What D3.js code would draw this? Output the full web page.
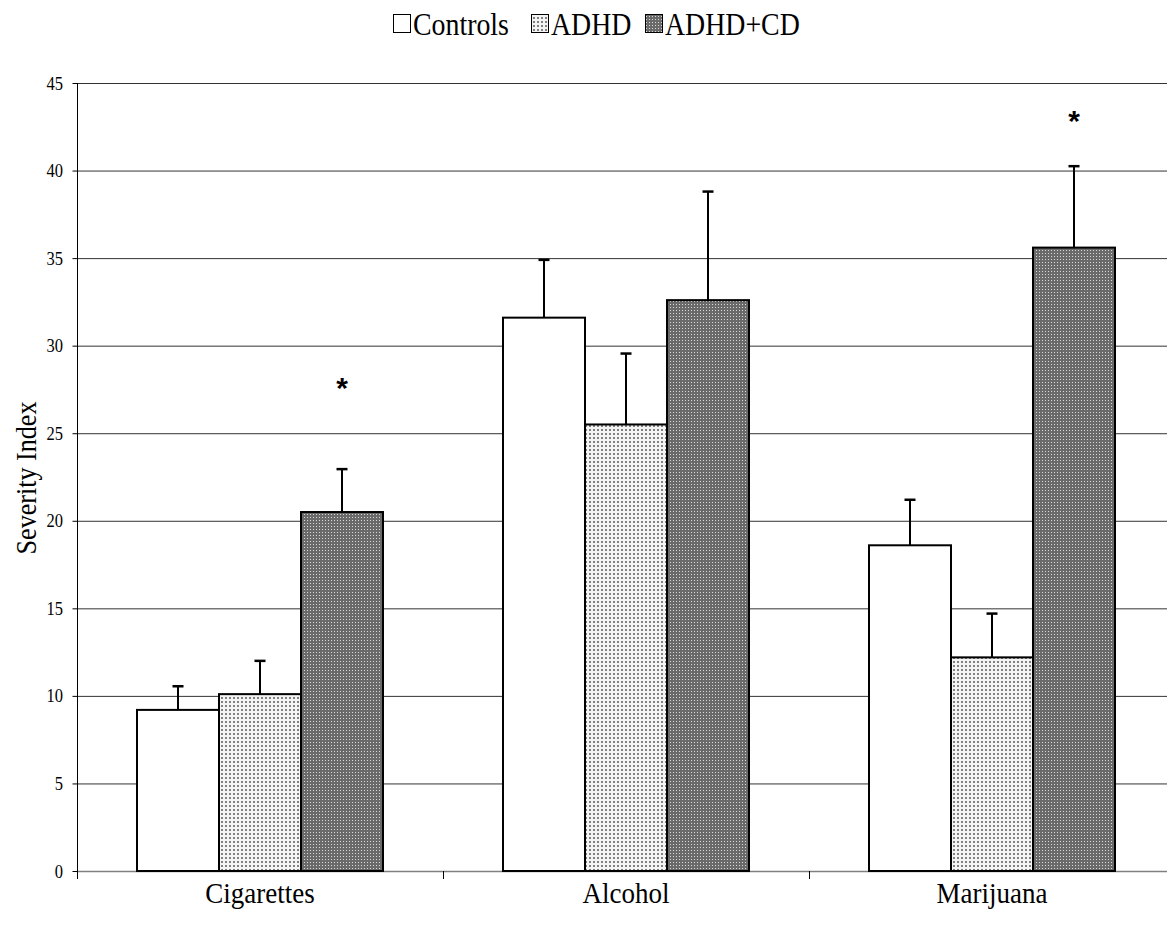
<!DOCTYPE html>
<html>
<head>
<meta charset="utf-8">
<script src="https://cdn.jsdelivr.net/npm/d3@7"></script>
<style>
  body { margin: 0; background: #fff; }
  svg { display: block; font-family: 'Liberation Serif', 'Times New Roman', serif; }
</style>
</head>
<body>
<svg id="chart" width="1167" height="928"></svg>
<script>
// data
const categories = ['Cigarettes', 'Alcohol', 'Marijuana']
const groups     = ['Controls', 'ADHD', 'ADHD+CD']
const controls   = [9.2, 31.6, 18.6]
const adhd       = [10.1, 25.5, 12.2]
const adhdCd     = [20.5, 32.6, 35.6]
const controlsErr = [1.35, 3.3, 2.6]
const adhdErr     = [1.9, 4.05, 2.5]
const adhdCdErr   = [2.45, 6.2, 4.65]
const yTicks     = [0, 5, 10, 15, 20, 25, 30, 35, 40, 45]
// significance markers: [category, group, y position]
const stars      = [['Cigarettes', 'ADHD+CD', 27.9], ['Marijuana', 'ADHD+CD', 43.2]]

const means = [controls, adhd, adhdCd]
const errs  = [controlsErr, adhdErr, adhdCdErr]

const rows = []
categories.forEach((c, i) => {
  groups.forEach((g, j) => {
    rows.push({ cat: c, group: g, value: means[j][i], err: errs[j][i] })
  })
})

const svg = d3.select('#chart')
const squeeze = 0.87   // the original type is set a bit narrow

// fill patterns
const defs = svg.append('defs')
const pLight = defs.append('pattern')
  .attr('id', 'pat-adhd').attr('patternUnits', 'userSpaceOnUse')
  .attr('width', 4).attr('height', 4)
pLight.append('rect').attr('width', 4).attr('height', 4).attr('fill', '#f4f4f4')
pLight.append('rect').attr('x', 1).attr('y', 1).attr('width', 2).attr('height', 2).attr('fill', '#808080')

const pDark = defs.append('pattern')
  .attr('id', 'pat-adhdcd').attr('patternUnits', 'userSpaceOnUse')
  .attr('width', 3).attr('height', 3)
pDark.append('rect').attr('width', 3).attr('height', 3).attr('fill', '#6a6a6a')
pDark.append('rect').attr('x', 1).attr('y', 1).attr('width', 1).attr('height', 1).attr('fill', '#d8d8d8')

const fills = { 'Controls': '#ffffff', 'ADHD': 'url(#pat-adhd)', 'ADHD+CD': 'url(#pat-adhdcd)' }

// scales
const plotLeft = 77, plotTop = 83, plotBottom = 871
const x0 = d3.scaleBand().domain(categories).range([plotLeft, plotLeft + 3 * 366]).padding(0)
const barW = 82
const x1 = d3.scaleBand().domain(groups)
  .range([(x0.bandwidth() - 3 * barW) / 2, (x0.bandwidth() + 3 * barW) / 2])
const y = d3.scaleLinear().domain([0, 45]).range([plotBottom, plotTop])

// gridlines
svg.append('g')
  .selectAll('line')
  .data(yTicks.filter(t => t > 0))
  .enter().append('line')
  .attr('x1', plotLeft).attr('x2', 1167)
  .attr('y1', d => y(d) + 0.5).attr('y2', d => y(d) + 0.5)
  .attr('stroke', '#333').attr('stroke-width', 1)

// zero line
svg.append('line')
  .attr('x1', plotLeft).attr('x2', 1167)
  .attr('y1', y(0) + 0.5).attr('y2', y(0) + 0.5)
  .attr('stroke', '#808080').attr('stroke-width', 1.5)

// y axis
const yAxis = svg.append('g')
  .attr('transform', `translate(${plotLeft + 0.5},0)`)
  .call(d3.axisLeft(y).tickValues(yTicks).tickSize(5))
yAxis.select('.domain').attr('d', `M0,${plotTop}V${plotBottom + 8}`).attr('stroke', '#000')
yAxis.selectAll('.tick line').attr('stroke', '#000')
yAxis.selectAll('text')
  .attr('font-family', "'Liberation Serif', serif")
  .attr('font-size', 19).attr('fill', '#000')
  .attr('x', -14.5 / squeeze)
  .attr('transform', `scale(${squeeze},1)`)

// x category separators
svg.append('g')
  .selectAll('line')
  .data(categories.slice(1))
  .enter().append('line')
  .attr('x1', d => x0(d) + 0.5).attr('x2', d => x0(d) + 0.5)
  .attr('y1', plotBottom).attr('y2', plotBottom + 8)
  .attr('stroke', '#000').attr('stroke-width', 1)

// x labels
svg.append('g')
  .selectAll('text')
  .data(categories)
  .enter().append('text')
  .attr('transform', d => `translate(${x0(d) + x0.bandwidth() / 2},903) scale(0.9,1)`)
  .attr('text-anchor', 'middle')
  .attr('font-size', 30)
  .text(d => d)

// y title
svg.append('text')
  .attr('transform', `translate(36,478) rotate(-90) scale(${squeeze},1)`)
  .attr('text-anchor', 'middle')
  .attr('font-size', 30)
  .text('Severity Index')

// error bars (drawn under bars so only the upper whisker shows)
const eb = svg.append('g')
  .selectAll('g')
  .data(rows)
  .enter().append('g')
  .attr('transform', d => `translate(${x0(d.cat) + x1(d.group) + barW / 2},0)`)
eb.append('line')
  .attr('x1', 0).attr('x2', 0)
  .attr('y1', d => y(d.value)).attr('y2', d => y(d.value + d.err))
  .attr('stroke', '#000').attr('stroke-width', 2)
eb.append('line')
  .attr('x1', -5.5).attr('x2', 5.5)
  .attr('y1', d => y(d.value + d.err)).attr('y2', d => y(d.value + d.err))
  .attr('stroke', '#000').attr('stroke-width', 2.5)

// bars
svg.append('g')
  .selectAll('rect')
  .data(rows)
  .enter().append('rect')
  .attr('x', d => x0(d.cat) + x1(d.group))
  .attr('y', d => y(d.value))
  .attr('width', barW)
  .attr('height', d => y(0) - y(d.value))
  .attr('fill', d => fills[d.group])
  .attr('stroke', '#000')
  .attr('stroke-width', 2)

// significance stars
svg.append('g')
  .selectAll('text')
  .data(stars)
  .enter().append('text')
  .attr('x', d => x0(d[0]) + x1(d[1]) + barW / 2)
  .attr('y', d => y(d[2]) + 16)
  .attr('text-anchor', 'middle')
  .attr('font-family', "'Liberation Sans', Arial, sans-serif")
  .attr('font-weight', 'bold')
  .attr('font-size', 30)
  .text('*')

// legend
const legendSwatchX = [393, 531, 645]
const legendTextX   = [413, 551, 665]
const lg = svg.append('g')
  .selectAll('g')
  .data(groups)
  .enter().append('g')
lg.append('rect')
  .attr('x', (d, i) => legendSwatchX[i] + 0.5).attr('y', 14.5)
  .attr('width', 17).attr('height', 18)
  .attr('fill', d => fills[d])
  .attr('stroke', '#000').attr('stroke-width', 1)
lg.append('text')
  .attr('transform', (d, i) => `translate(${legendTextX[i]},35) scale(${squeeze},1)`)
  .attr('font-size', 32)
  .text(d => d)
</script>
</body>
</html>
